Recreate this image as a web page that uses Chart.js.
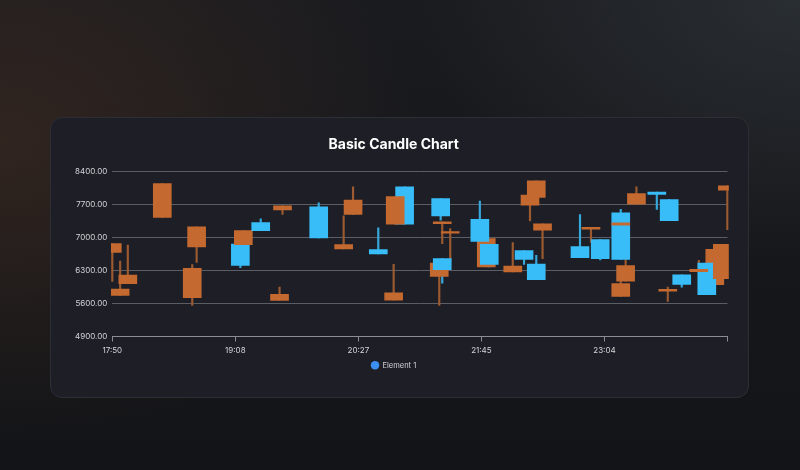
<!DOCTYPE html>
<html>
<head>
<meta charset="utf-8">
<script src="https://cdn.jsdelivr.net/npm/chart.js@4.4.1/dist/chart.umd.min.js"></script>
<style>
  html, body { margin: 0; width: 800px; height: 470px; overflow: hidden; }
  body {
    background:
      radial-gradient(ellipse 420px 300px at 0% 30%, rgba(95, 58, 36, 0.35), rgba(95, 58, 36, 0) 100%),
      radial-gradient(ellipse 380px 260px at 100% 0%, rgba(70, 82, 88, 0.35), rgba(70, 82, 88, 0) 100%),
      linear-gradient(to bottom, #1a1b1f 0%, #131417 100%);
  }
  .card {
    position: absolute; left: 50px; top: 117px; width: 699px; height: 281px;
    box-sizing: border-box; background: #1e1f26; border: 1px solid #2c2e35; border-radius: 12px;
  }
  #candle-chart { position: absolute; left: 0; top: 0; }
</style>
</head>
<body>
<div class="card"></div>
<canvas id="candle-chart" width="800" height="470"></canvas>
<script>
// minutes after 17:50, listed in drawing order
const candleTimes = [0, 5.0, 9.9, 31.9, 51.0, 53.8, 81.7, 83.6, 94.7, 106.7, 108.6, 131.7, 147.6, 153.6, 169.7, 179.5,
  186.5, 180.5, 208.6, 209.5, 210.5, 215.6, 210.5, 238.6, 234.5, 240.5, 255.5, 262.7, 266.5, 270.5, 270.5, 274.5,
  298.4, 305.4, 311.3, 324.4, 324.4, 324.4, 327.5, 334.4, 354.4, 347.4, 355.3, 363.3, 384.4, 379.3, 374.2, 389.2, 392.4];
const openValues = [6874, 5908, 6206, 8152, 6348, 7229, 6412, 7151, 7151, 5794, 7676, 6994, 6852, 7797, 6653, 5829,
  7286, 7875, 6462, 7463, 7335, 7129, 6320, 6980, 6923, 6433, 6398, 6540, 7903, 6106, 8209, 7293,
  6575, 7222, 6554, 6540, 7313, 6022, 6405, 7939, 5900, 7918, 7364, 6007, 6753, 5787, 6327, 6859, 8102];
const highValues = [6874, 6504, 6845, 8152, 6426, 7229, 6866, 7151, 7399, 5950, 7676, 7740, 7463, 8081, 7207, 6433,
  8081, 7875, 6462, 7832, 7335, 7193, 6554, 6980, 7776, 6859, 6895, 6724, 7903, 6625, 8209, 7293,
  7492, 7222, 6959, 7605, 7313, 6077, 6908, 8081, 5950, 7967, 7811, 6213, 6753, 6462, 6518, 6859, 8102];
const lowValues = [6071, 5773, 6021, 7428, 5560, 6476, 6362, 6852, 7151, 5666, 7492, 6994, 6760, 7492, 6653, 5673,
  7286, 7286, 5560, 7371, 6874, 6500, 6035, 6376, 6923, 6376, 6270, 6433, 7357, 6106, 7854, 6554,
  6575, 6900, 6530, 6540, 6789, 5752, 6078, 7712, 5645, 7598, 7364, 5950, 6000, 5787, 6277, 6128, 7172];
const closeValues = [6689, 5773, 6021, 7428, 5723, 6803, 6866, 6852, 7321, 5666, 7591, 7655, 6760, 7492, 6746, 5673,
  8081, 7286, 6178, 7832, 7300, 7094, 6554, 6376, 7392, 6859, 6270, 6724, 7690, 6440, 7854, 7158,
  6810, 7179, 6959, 7527, 7264, 5752, 6078, 7712, 5865, 7967, 7811, 6213, 6000, 6462, 6277, 6128, 8010];

const xTickMinutes = [0, 78.5, 157, 235.5, 314, 392.5];
const xTickLabels = ['17:50', '19:08', '20:27', '21:45', '23:04', ''];
const yTickValues = [4900, 5600, 6300, 7000, 7700, 8400];
const legendLabel = 'Element 1';

const upColor = '#38bdf8';
const downColor = '#c4692f';
const upWick = '#36a9dc';
const downWick = '#9c5a30';
const legendColor = '#3b8ef2';
const textColor = '#d4d4d8';

const isUp = candleTimes.map((t, i) => closeValues[i] > openValues[i]);
const bodyData = candleTimes.map((t, i) => ({ x: t, y: [openValues[i], closeValues[i]] }));
const wickData = candleTimes.map((t, i) => ({ x: t, y: [lowValues[i], highValues[i]] }));

const ctx = document.getElementById('candle-chart');
new Chart(ctx, {
  type: 'bar',
  data: {
    datasets: [{
      label: legendLabel,
      data: bodyData,
      backgroundColor: isUp.map(u => u ? upColor : downColor),
      borderWidth: 0,
      barThickness: 18,
      grouped: false,
      order: 1,
      clip: 1.3
    }, {
      label: 'wicks',
      data: wickData,
      backgroundColor: isUp.map(u => u ? upWick : downWick),
      borderWidth: 0,
      barThickness: 1.5,
      grouped: false,
      order: 2,
      clip: 1.3
    }]
  },
  options: {
    responsive: false,
    animation: false,
    layout: { padding: { left: 60, right: 72.5, top: 128, bottom: 91 } },
    plugins: {
      title: {
        display: true,
        text: 'Basic Candle Chart',
        color: '#ffffff',
        font: { family: 'Inter', size: 14, weight: '700' },
        padding: { top: 8, bottom: 19 }
      },
      legend: {
        position: 'bottom',
        labels: {
          usePointStyle: true,
          pointStyle: 'circle',
          boxHeight: 6,
          padding: 6,
          color: textColor,
          font: { family: 'Inter', size: 7.5 },
          generateLabels: () => [{
            text: legendLabel, fillStyle: legendColor, strokeStyle: legendColor,
            lineWidth: 0, pointStyle: 'circle', hidden: false, datasetIndex: 0, fontColor: textColor
          }]
        }
      },
      tooltip: { enabled: false }
    },
    scales: {
      x: {
        type: 'linear',
        min: 0,
        max: 392.5,
        offset: false,
        afterBuildTicks: (scale) => { scale.ticks = xTickMinutes.map(v => ({ value: v })); },
        afterFit: (scale) => { scale.height = 19; },
        ticks: {
          autoSkip: false,
          maxRotation: 0,
          padding: 4,
          color: textColor,
          font: { family: 'Inter', size: 8 },
          callback: (v, i) => xTickLabels[i]
        },
        grid: { offset: false, drawOnChartArea: false, drawTicks: true, tickLength: 5, color: '#8b8d93' },
        border: { display: true, color: '#8b8d93' }
      },
      y: {
        min: 4900,
        max: 8400,
        afterBuildTicks: (scale) => { scale.ticks = yTickValues.map(v => ({ value: v })); },
        afterFit: (scale) => { scale.width = 52.3; },
        ticks: {
          padding: 5,
          color: textColor,
          font: { family: 'Inter', size: 8 },
          callback: (v) => Number(v).toFixed(2)
        },
        grid: { color: '#5b5e64', drawTicks: false },
        border: { display: false }
      }
    }
  }
});
</script>
</body>
</html>
